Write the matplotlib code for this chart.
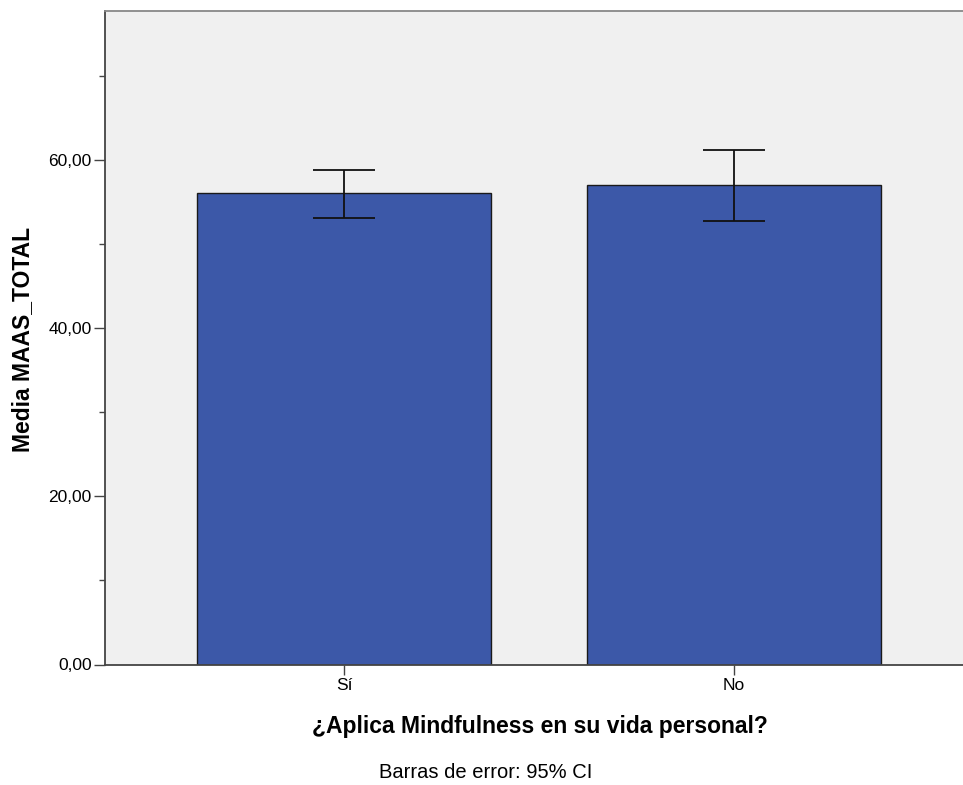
import matplotlib
matplotlib.use("Agg")
import matplotlib.pyplot as plt
from matplotlib.ticker import FixedLocator, FuncFormatter

plt.rcParams['font.family'] = ['Liberation Sans', 'DejaVu Sans']

categories = ["Sí", "No"]
means = [56.07, 56.99]
ci_low = [53.14, 52.82]
ci_high = [58.81, 61.24]
major_ticks = [0, 20, 40, 60]
minor_ticks = [10, 30, 50, 70]

W, H = 963, 785
fig = plt.figure(figsize=(W / 100, H / 100), dpi=100)
left, right, top, bottom = 105, 973, 11, 664.5
ax = fig.add_axes([left / W, 1 - bottom / H, (right - left) / W, (bottom - top) / H])
ax.set_facecolor('#F0F0F0')

x = list(range(len(categories)))
yerr = [[m - lo for m, lo in zip(means, ci_low)], [hi - m for m, hi in zip(means, ci_high)]]
ax.bar(x, means, width=0.754, color='#3C58A8', edgecolor='#1a1a1a', linewidth=1.0, zorder=2)
ax.errorbar(x, means, yerr=yerr, fmt='none', ecolor='#111111', elinewidth=1.3,
            capsize=22, capthick=1.3, zorder=3)

ax.set_xlim(-0.613, 1.613)
ax.set_ylim(0, 77.75)
ax.set_xticks(x)
ax.set_xticklabels(categories, fontsize=12.5)
ax.yaxis.set_major_locator(FixedLocator(major_ticks))
ax.yaxis.set_minor_locator(FixedLocator(minor_ticks))
ax.yaxis.set_major_formatter(FuncFormatter(lambda v, p: f"{v:.2f}".replace('.', ',')))
ax.tick_params(axis='y', which='major', length=8, width=1, color='#444444', labelsize=12.5, pad=1.5)
ax.tick_params(axis='y', which='minor', length=4, width=1, color='#444444')
ax.tick_params(axis='x', which='major', length=7.5, width=1, color='#444444', labelsize=12.5, pad=2)

for s in ['left', 'bottom']:
    ax.spines[s].set_color('#444444')
    ax.spines[s].set_linewidth(1.3)
ax.spines['top'].set_color('#888888')
ax.spines['top'].set_linewidth(1.3)
ax.spines['right'].set_visible(False)

fig.text(22.5 / W, 1 - 339 / H, "Media MAAS_TOTAL", rotation=90, fontsize=16.5, fontweight='bold',
         ha='center', va='center')
fig.text(540 / W, 1 - 726 / H, "¿Aplica Mindfulness en su vida personal?", fontsize=16.5,
         fontweight='bold', ha='center', va='center')
fig.text(486 / W, 1 - 773 / H, "Barras de error: 95% CI", fontsize=14.5, ha='center', va='center')

fig.savefig("out.png", dpi=100)
